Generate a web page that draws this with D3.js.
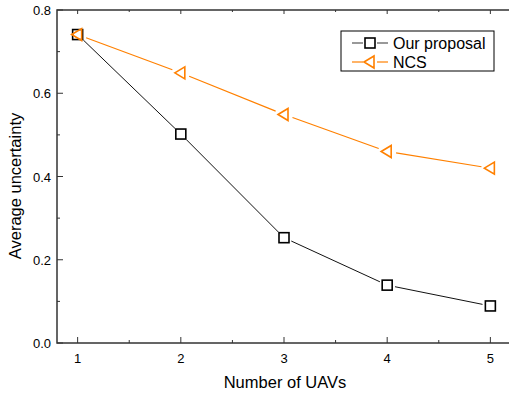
<!DOCTYPE html>
<html>
<head>
<meta charset="utf-8">
<script src="https://cdn.jsdelivr.net/npm/d3@7"></script>
<style>
  body { margin: 0; background: #fff; }
  text { font-family: "Liberation Sans", Arial, sans-serif; fill: #000; }
</style>
</head>
<body>
<svg id="chart" width="509" height="394"></svg>
<script>
// Data.
var uavs = [1, 2, 3, 4, 5];
var ourProposal = [0.741, 0.502, 0.253, 0.139, 0.089];
var ncs = [0.741, 0.649, 0.549, 0.460, 0.420];
var yTicks = [0.0, 0.2, 0.4, 0.6, 0.8];
var seriesNames = ["Our proposal", "NCS"];

var svg = d3.select("#chart");
var plotL = 57, plotR = 511, plotT = 10, plotB = 343;

var xScale = d3.scaleLinear().domain([0.8, 5.2]).range([plotL, plotR]);
var yScale = d3.scaleLinear().domain([0, 0.8]).range([plotB, plotT]);

var axisColor = "#333";

// frame
svg.append("rect")
    .attr("x", plotL).attr("y", plotT)
    .attr("width", plotR - plotL).attr("height", plotB - plotT)
    .attr("fill", "none").attr("stroke", axisColor).attr("stroke-width", 1.5);

// bottom axis: inward major + minor ticks
var minorX = [1.5, 2.5, 3.5, 4.5];
var gx = svg.append("g");
gx.selectAll(".maj").data(uavs).enter().append("line")
    .attr("x1", d => xScale(d)).attr("x2", d => xScale(d))
    .attr("y1", plotB).attr("y2", plotB - 6)
    .attr("stroke", axisColor).attr("stroke-width", 1);
gx.selectAll(".min").data(minorX).enter().append("line")
    .attr("x1", d => xScale(d)).attr("x2", d => xScale(d))
    .attr("y1", plotB).attr("y2", plotB - 3)
    .attr("stroke", axisColor).attr("stroke-width", 1);
// top mirror ticks
gx.selectAll(".tmaj").data(uavs).enter().append("line")
    .attr("x1", d => xScale(d)).attr("x2", d => xScale(d))
    .attr("y1", plotT).attr("y2", plotT + 4)
    .attr("stroke", axisColor).attr("stroke-width", 1);
gx.selectAll(".tmin").data(minorX).enter().append("line")
    .attr("x1", d => xScale(d)).attr("x2", d => xScale(d))
    .attr("y1", plotT).attr("y2", plotT + 2)
    .attr("stroke", axisColor).attr("stroke-width", 1);
gx.selectAll("text").data(uavs).enter().append("text")
    .attr("x", d => xScale(d)).attr("y", plotB + 20)
    .attr("text-anchor", "middle").attr("font-size", 13)
    .text(d => d);

// left axis
var minorY = [0.1, 0.3, 0.5, 0.7];
var gy = svg.append("g");
gy.selectAll(".maj").data(yTicks).enter().append("line")
    .attr("x1", plotL).attr("x2", plotL + 6)
    .attr("y1", d => yScale(d)).attr("y2", d => yScale(d))
    .attr("stroke", axisColor).attr("stroke-width", 1);
gy.selectAll(".min").data(minorY).enter().append("line")
    .attr("x1", plotL).attr("x2", plotL + 3)
    .attr("y1", d => yScale(d)).attr("y2", d => yScale(d))
    .attr("stroke", axisColor).attr("stroke-width", 1);
gy.selectAll("text").data(yTicks).enter().append("text")
    .attr("x", plotL - 6).attr("y", d => yScale(d) + 5)
    .attr("text-anchor", "end").attr("font-size", 13)
    .text(d => d.toFixed(1));

// axis titles
svg.append("text")
    .attr("x", 285).attr("y", 388)
    .attr("text-anchor", "middle").attr("font-size", 16.5)
    .text("Number of UAVs");
svg.append("text")
    .attr("transform", "translate(21,186) rotate(-90)")
    .attr("text-anchor", "middle").attr("font-size", 16.5)
    .text("Average uncertainty");

// lines with gaps around markers
function gappedLine(vals, color, width, gap) {
    var pts = uavs.map((u, i) => [xScale(u), yScale(vals[i])]);
    for (var i = 0; i < pts.length - 1; i++) {
        var a = pts[i], b = pts[i + 1];
        var dx = b[0] - a[0], dy = b[1] - a[1];
        var len = Math.sqrt(dx * dx + dy * dy);
        var ux = dx / len, uy = dy / len;
        svg.append("line")
            .attr("x1", a[0] + ux * gap).attr("y1", a[1] + uy * gap)
            .attr("x2", b[0] - ux * gap).attr("y2", b[1] - uy * gap)
            .attr("stroke", color).attr("stroke-width", width);
    }
}

var orange = "#ff8000";
gappedLine(ncs, orange, 1.2, 9);
gappedLine(ourProposal, "#111", 1, 8);

function square(g, x, y) {
    g.append("rect").attr("x", x - 5).attr("y", y - 5)
        .attr("width", 10).attr("height", 10)
        .attr("fill", "none").attr("stroke", "#000").attr("stroke-width", 1.6);
}
function triangle(g, x, y) {
    g.append("path")
        .attr("d", "M" + (x - 6) + "," + y + "L" + (x + 4) + "," + (y - 6) + "L" + (x + 4) + "," + (y + 6) + "Z")
        .attr("fill", "none").attr("stroke", orange).attr("stroke-width", 1.6);
}

uavs.forEach((u, i) => square(svg, xScale(u), yScale(ourProposal[i])));
uavs.forEach((u, i) => triangle(svg, xScale(u), yScale(ncs[i])));

// legend
var lg = svg.append("g");
lg.append("rect").attr("x", 341).attr("y", 31).attr("width", 153).attr("height", 40)
    .attr("fill", "#fff").attr("stroke", "#000").attr("stroke-width", 1);
var legendRows = [
    { name: seriesNames[0], color: "#555", y: 43 },
    { name: seriesNames[1], color: orange, y: 62 }
];
legendRows.forEach(r => {
    lg.append("line").attr("x1", 352).attr("x2", 363).attr("y1", r.y).attr("y2", r.y)
        .attr("stroke", r.color).attr("stroke-width", 1.2);
    lg.append("line").attr("x1", 377).attr("x2", 388).attr("y1", r.y).attr("y2", r.y)
        .attr("stroke", r.color).attr("stroke-width", 1.2);
    lg.append("text").attr("x", 393).attr("y", r.y + 5.5).attr("font-size", 16).text(r.name);
});
square(lg, 370, 43);
triangle(lg, 370, 62);
</script>
</body>
</html>
